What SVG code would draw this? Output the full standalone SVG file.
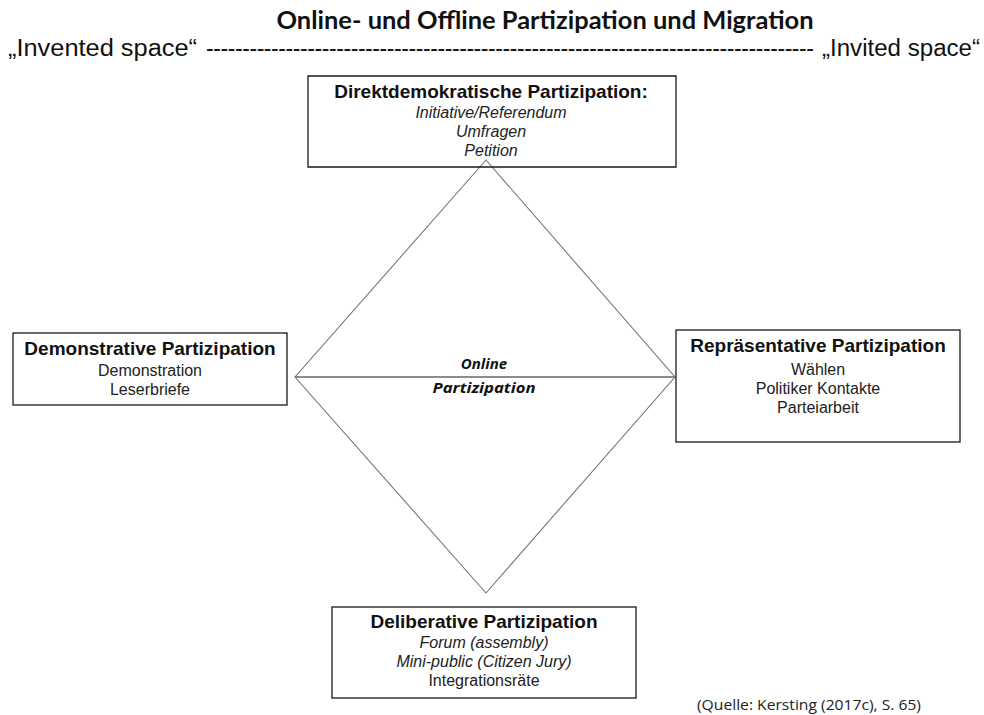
<svg xmlns="http://www.w3.org/2000/svg" width="984" height="715" viewBox="0 0 984 715">
<style>
  .box { fill: #fff; stroke: #1a1a1a; stroke-width: 1.3; }
  .edge { fill: none; stroke: #777; stroke-width: 1.1; }
  .axis { fill: none; stroke: #666; stroke-width: 1.6; }
  .hd { font-family: "Liberation Sans", Arial, sans-serif; font-weight: bold; font-size: 19px; fill: #111; text-anchor: middle; }
  .it { font-family: "Liberation Sans", Arial, sans-serif; font-style: italic; font-size: 16px; fill: #222; text-anchor: middle; }
  .rg { font-family: "Liberation Sans", Arial, sans-serif; font-size: 16px; fill: #222; text-anchor: middle; }
  .title { font-family: Lato, "Open Sans", sans-serif; font-weight: bold; font-size: 24px; fill: #111; text-anchor: middle; }
  .space { font-family: "Liberation Sans", Arial, sans-serif; font-size: 23px; fill: #111; }
  .ctr { font-family: "Open Sans", "Noto Sans", sans-serif; font-weight: bold; font-style: italic; font-size: 15px; fill: #111; text-anchor: middle; }
  .src { font-family: "Open Sans", "Noto Sans", sans-serif; font-size: 14px; fill: #222; }
</style>
<rect width="984" height="715" fill="#fff"/>

<text class="title" x="545" y="29" textLength="537" lengthAdjust="spacingAndGlyphs">Online- und Offline Partizipation und Migration</text>

<g id="spectrum">
  <text class="space" x="8" y="56" textLength="189" lengthAdjust="spacingAndGlyphs">„Invented space“</text>
  <text class="space" x="206" y="56" textLength="608" lengthAdjust="spacing">------------------------------------------------------------------------------------</text>
  <text class="space" x="822" y="56" textLength="158" lengthAdjust="spacingAndGlyphs">„Invited space“</text>
</g>

<g id="connectors">
  <path class="edge" d="M486 160 L675 377 L486 593 L295 377 Z"/>
  <line class="axis" x1="295" y1="377" x2="675" y2="377"/>
</g>

<g id="direkt">
  <path class="box" d="M308 76 H676 V167 H308 Z" style="fill:none"/>
  <text class="hd" x="491" y="98">Direktdemokratische Partizipation:</text>
  <text class="it" x="491" y="118">Initiative/Referendum</text>
  <text class="it" x="491" y="137">Umfragen</text>
  <text class="it" x="491" y="156">Petition</text>
</g>

<g id="demonstrativ">
  <rect class="box" x="13" y="333" width="274" height="72"/>
  <text class="hd" x="150" y="355">Demonstrative Partizipation</text>
  <text class="rg" x="150" y="376">Demonstration</text>
  <text class="rg" x="150" y="395">Leserbriefe</text>
</g>

<g id="repraesentativ">
  <rect class="box" x="676" y="330" width="284" height="112"/>
  <text class="hd" x="818" y="352">Repräsentative Partizipation</text>
  <text class="rg" x="818" y="375">Wählen</text>
  <text class="rg" x="818" y="394">Politiker Kontakte</text>
  <text class="rg" x="818" y="413">Parteiarbeit</text>
</g>

<g id="online">
  <text class="ctr" x="484" y="369">Online</text>
  <text class="ctr" x="484" y="393" textLength="103" lengthAdjust="spacingAndGlyphs">Partizipation</text>
</g>

<g id="deliberativ">
  <rect class="box" x="332" y="607" width="304" height="91"/>
  <text class="hd" x="484" y="628">Deliberative Partizipation</text>
  <text class="it" x="484" y="648">Forum (assembly)</text>
  <text class="it" x="484" y="667">Mini-public (Citizen Jury)</text>
  <text class="rg" x="484" y="686">Integrationsräte</text>
</g>

<text class="src" x="697" y="710" textLength="224" lengthAdjust="spacingAndGlyphs">(Quelle: Kersting (2017c), S. 65)</text>
</svg>
